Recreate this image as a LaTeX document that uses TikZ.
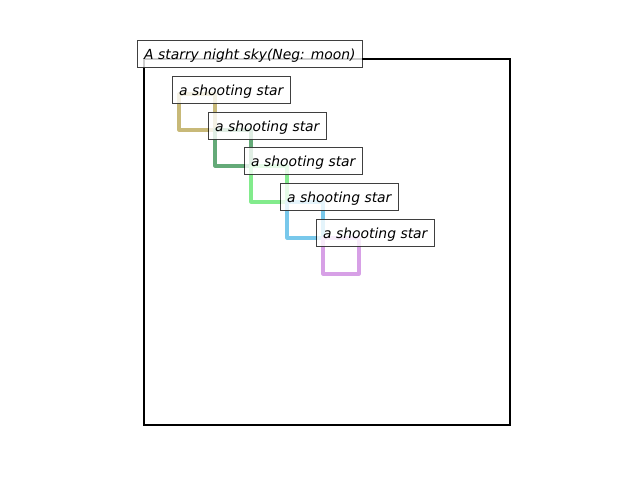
\documentclass[tikz,border=0pt]{standalone}
\usepackage{fontspec}
\setmainfont{DejaVu Sans}
\definecolor{cA}{RGB}{200,185,120}
\definecolor{cB}{RGB}{100,170,120}
\definecolor{cC}{RGB}{130,235,140}
\definecolor{cD}{RGB}{120,200,235}
\definecolor{cE}{RGB}{215,160,230}
\tikzset{
  lbl/.style={draw=black, draw opacity=0.75, fill=white, fill opacity=0.8, text opacity=1,
    font=\fontsize{10}{12}\selectfont\itshape, inner xsep=4.8pt, inner ysep=0pt,
    text height=14pt, text depth=6pt, anchor=west, line width=0.8pt},
  sq/.style={line width=2.2pt, line cap=round, line join=round}
}
\begin{document}
\begin{tikzpicture}[x=0.72pt,y=-0.72pt]
\useasboundingbox (0,0) rectangle (640,480);
\draw[line width=1.5pt] (144,59) rectangle (510,425);
\draw[sq, cA] (179,94) rectangle (215,130);
\draw[sq, cB] (215,130) rectangle (251,166);
\draw[sq, cC] (251,166) rectangle (287,202);
\draw[sq, cD] (287,202) rectangle (323,238);
\draw[sq, cE] (323,238) rectangle (359,274);
\node[lbl] (main) at (137,54) {A starry night sky(Neg: moon)};
\node[lbl] (s1) at (172,90) {a shooting star};
\node[lbl] (s2) at (208,126) {a shooting star};
\node[lbl] (s3) at (244,161) {a shooting star};
\node[lbl] (s4) at (280,197) {a shooting star};
\node[lbl] (s5) at (316,233) {a shooting star};
\end{tikzpicture}
\end{document}
